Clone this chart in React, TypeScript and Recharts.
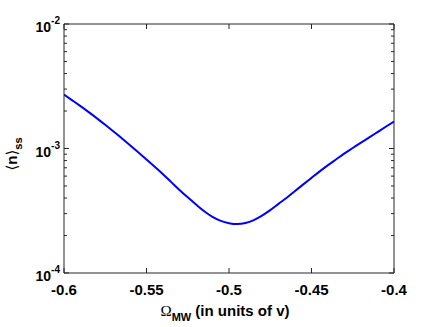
import React from 'react';
import { LineChart, Line, XAxis, YAxis, Label } from 'recharts';

// Detuning Ω_MW (in units of v)
const omega = [
  -0.6, -0.595, -0.59, -0.585, -0.58, -0.575, -0.57, -0.565, -0.56, -0.555,
  -0.55, -0.545, -0.54, -0.535, -0.53, -0.525, -0.52, -0.515, -0.51, -0.505,
  -0.5, -0.495, -0.49, -0.485, -0.48, -0.475, -0.47, -0.465, -0.46, -0.455,
  -0.45, -0.445, -0.44, -0.435, -0.43, -0.425, -0.42, -0.415, -0.41, -0.405,
  -0.4,
];
// Steady-state occupation <n>_ss
const nss = [
  2.716e-3, 2.438e-3, 2.188e-3, 1.959e-3, 1.746e-3, 1.549e-3, 1.371e-3, 1.211e-3,
  1.064e-3, 9.33e-4, 8.17e-4, 7.13e-4, 6.21e-4, 5.37e-4, 4.65e-4, 4.05e-4,
  3.55e-4, 3.13e-4, 2.82e-4, 2.62e-4, 2.51e-4, 2.47e-4, 2.52e-4, 2.66e-4,
  2.89e-4, 3.2e-4, 3.59e-4, 4.02e-4, 4.55e-4, 5.15e-4, 5.81e-4, 6.55e-4,
  7.35e-4, 8.2e-4, 9.14e-4, 1.009e-3, 1.114e-3, 1.227e-3, 1.355e-3, 1.496e-3,
  1.648e-3,
];

const xTicks = [-0.6, -0.55, -0.5, -0.45, -0.4];
const xTickLabels = ['-0.6', '-0.55', '-0.5', '-0.45', '-0.4'];
const yMajorTicks = [1e-4, 1e-3, 1e-2];
const yMajorExponents = ['-4', '-3', '-2'];
const yMinorTicks = [
  2e-4, 3e-4, 4e-4, 5e-4, 6e-4, 7e-4, 8e-4, 9e-4,
  2e-3, 3e-3, 4e-3, 5e-3, 6e-3, 7e-3, 8e-3, 9e-3,
];
const yAllTicks = [...yMajorTicks, ...yMinorTicks].sort((a, b) => a - b);

const data = omega.map((x, i) => ({ x, y: nss[i] }));

const AXIS_COLOR = '#262626';
const FONT = '"Liberation Sans", Arial, Helvetica, sans-serif';

const majorIndex = (v: number) =>
  yMajorTicks.findIndex((m) => Math.abs(Math.log10(m) - Math.log10(v)) < 1e-6);

const YLeftTick = (props: any) => {
  const { x, y, payload } = props;
  const mi = majorIndex(payload.value);
  const len = mi >= 0 ? 5 : 3;
  return (
    <g>
      <path d={`M${x},${y}H${x + len}`} stroke={AXIS_COLOR} strokeWidth={1} fill="none" />
      {mi >= 0 && (
        <text
          x={x - 4}
          y={y + 8}
          textAnchor="end"
          fontFamily={FONT}
          fontWeight="bold"
          fontSize={14}
          fill="#000"
          stroke="none"
        >
          <tspan>10</tspan>
          <tspan dy={-8} fontSize={10}>
            {yMajorExponents[mi]}
          </tspan>
        </text>
      )}
    </g>
  );
};

const YRightTick = (props: any) => {
  const { x, y, payload } = props;
  const mi = majorIndex(payload.value);
  const len = mi >= 0 ? 5 : 3;
  return <path d={`M${x},${y}H${x - len}`} stroke={AXIS_COLOR} strokeWidth={1} fill="none" />;
};

const XBottomTick = (props: any) => {
  const { x, y, index } = props;
  return (
    <g>
      <path d={`M${x},${y}V${y - 5}`} stroke={AXIS_COLOR} strokeWidth={1} fill="none" />
      <text
        x={x}
        y={y + 22}
        textAnchor="middle"
        fontFamily={FONT}
        fontWeight="bold"
        fontSize={15}
        fill="#000"
        stroke="none"
      >
        {xTickLabels[index]}
      </text>
    </g>
  );
};

const XTopTick = (props: any) => {
  const { x, y } = props;
  return <path d={`M${x},${y}V${y + 5}`} stroke={AXIS_COLOR} strokeWidth={1} fill="none" />;
};

const XLabel = (props: any) => {
  const { viewBox } = props;
  const cx = viewBox.x + viewBox.width / 2 - 4;
  const by = viewBox.y + 43;
  return (
    <text x={cx} y={by} textAnchor="middle" fontFamily={FONT} fontWeight="bold" fontSize={15} fill="#000">
      <tspan fontFamily='"Liberation Serif", "DejaVu Serif", serif' fontWeight="normal">
        Ω
      </tspan>
      <tspan dy={5} fontSize={11}>
        MW
      </tspan>
      <tspan dy={-5}> (in units of v)</tspan>
    </text>
  );
};

const YLabel = () => {
  const cx = 17;
  const cy = 154;
  return (
    <text
      x={cx}
      y={cy}
      textAnchor="middle"
      transform={`rotate(-90, ${cx}, ${cy})`}
      fontFamily={FONT}
      fontWeight="bold"
      fontSize={15}
      fill="#000"
    >
      <tspan fontFamily='"DejaVu Sans", sans-serif' fontWeight="normal">⟨</tspan>
      <tspan>n</tspan>
      <tspan fontFamily='"DejaVu Sans", sans-serif' fontWeight="normal">⟩</tspan>
      <tspan dy={5} fontSize={11}>
        ss
      </tspan>
    </text>
  );
};

export default function App() {
  return (
    <div style={{ position: 'absolute', left: 0, top: 0, background: '#fff' }}>
      <LineChart
        width={436}
        height={327}
        data={data}
        margin={{ top: 23, right: 41, left: 0, bottom: 0 }}
      >
        <XAxis
          xAxisId="b"
          dataKey="x"
          type="number"
          domain={[-0.6, -0.4]}
          allowDataOverflow
          ticks={xTicks}
          interval={0}
          height={54}
          orientation="bottom"
          axisLine={{ stroke: AXIS_COLOR, strokeWidth: 1 }}
          tickLine={false}
          tickSize={0}
          tickMargin={0}
          tick={<XBottomTick />}
        >
          <Label content={<XLabel />} />
        </XAxis>
        <XAxis
          xAxisId="t"
          dataKey="x"
          type="number"
          domain={[-0.6, -0.4]}
          allowDataOverflow
          ticks={xTicks}
          interval={0}
          height={1}
          orientation="top"
          axisLine={{ stroke: AXIS_COLOR, strokeWidth: 1 }}
          tickLine={false}
          tickSize={0}
          tickMargin={0}
          tick={<XTopTick />}
        />
        <YAxis
          yAxisId="l"
          type="number"
          scale="log"
          domain={[1e-4, 1e-2]}
          allowDataOverflow
          ticks={yAllTicks}
          interval={0}
          width={64}
          orientation="left"
          axisLine={{ stroke: AXIS_COLOR, strokeWidth: 1 }}
          tickLine={false}
          tickSize={0}
          tickMargin={0}
          tick={<YLeftTick />}
        >
          <Label content={<YLabel />} />
        </YAxis>
        <YAxis
          yAxisId="r"
          type="number"
          scale="log"
          domain={[1e-4, 1e-2]}
          allowDataOverflow
          ticks={yAllTicks}
          interval={0}
          width={1}
          orientation="right"
          axisLine={{ stroke: AXIS_COLOR, strokeWidth: 1 }}
          tickLine={false}
          tickSize={0}
          tickMargin={0}
          tick={<YRightTick />}
        />
        <Line
          xAxisId="t"
          yAxisId="r"
          dataKey="y"
          type="monotone"
          stroke="none"
          dot={false}
          activeDot={false}
          isAnimationActive={false}
        />
        <Line
          xAxisId="b"
          yAxisId="l"
          dataKey="y"
          type="monotone"
          stroke="#0000ff"
          strokeWidth={2}
          dot={false}
          isAnimationActive={false}
        />
      </LineChart>
    </div>
  );
}
